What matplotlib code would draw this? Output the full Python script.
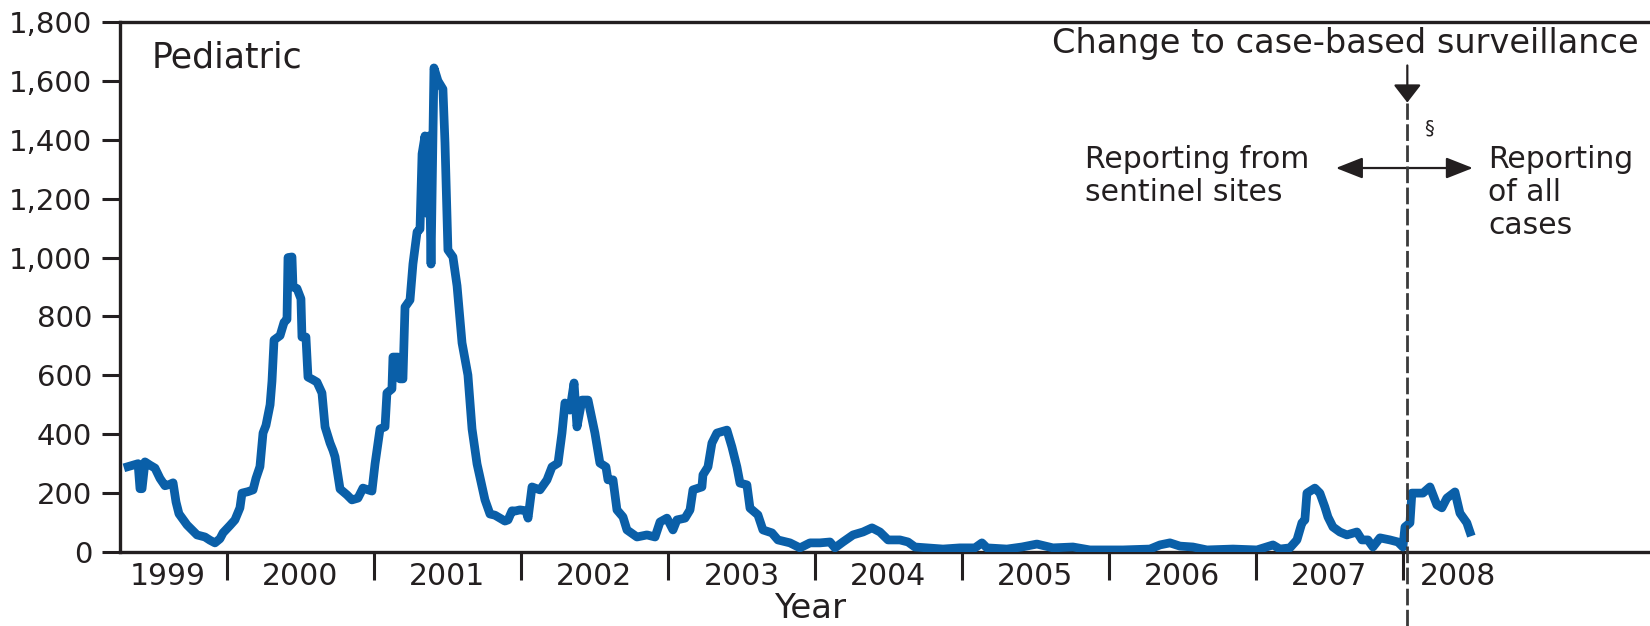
import matplotlib
matplotlib.use("Agg")
import matplotlib.pyplot as plt
import matplotlib.transforms as mtransforms
from matplotlib.ticker import FuncFormatter

plt.rcParams['font.family'] = ['DejaVu Sans']

# Weekly pediatric case counts (decimal year, cases)
years = [
    1999.327, 1999.395, 1999.408, 1999.422, 1999.442, 1999.476, 1999.510, 1999.544,
    1999.578, 1999.612, 1999.633, 1999.653, 1999.673, 1999.728, 1999.796, 1999.850,
    1999.884, 1999.918, 1999.952, 1999.973, 2000.020, 2000.054, 2000.088, 2000.102,
    2000.143, 2000.177, 2000.197, 2000.224, 2000.245, 2000.265, 2000.293, 2000.306,
    2000.320, 2000.361, 2000.388, 2000.408, 2000.415, 2000.442, 2000.449, 2000.476,
    2000.503, 2000.510, 2000.537, 2000.551, 2000.585, 2000.612, 2000.646, 2000.667,
    2000.701, 2000.721, 2000.735, 2000.769, 2000.816, 2000.850, 2000.891, 2000.925,
    2000.966, 2000.986, 2001.007, 2001.041, 2001.075, 2001.088, 2001.122, 2001.129,
    2001.163, 2001.177, 2001.197, 2001.211, 2001.245, 2001.265, 2001.293, 2001.313,
    2001.327, 2001.347, 2001.361, 2001.374, 2001.388, 2001.408, 2001.435, 2001.469,
    2001.483, 2001.503, 2001.537, 2001.565, 2001.599, 2001.639, 2001.667, 2001.701,
    2001.755, 2001.789, 2001.823, 2001.857, 2001.891, 2001.912, 2001.939, 2001.959,
    2001.993, 2002.034, 2002.048, 2002.075, 2002.129, 2002.177, 2002.211, 2002.252,
    2002.279, 2002.299, 2002.333, 2002.361, 2002.381, 2002.415, 2002.456, 2002.503,
    2002.537, 2002.578, 2002.592, 2002.626, 2002.653, 2002.694, 2002.721, 2002.789,
    2002.857, 2002.912, 2002.946, 2002.993, 2003.034, 2003.061, 2003.116, 2003.150,
    2003.170, 2003.231, 2003.238, 2003.272, 2003.299, 2003.333, 2003.401, 2003.435,
    2003.469, 2003.490, 2003.537, 2003.558, 2003.612, 2003.646, 2003.707, 2003.748,
    2003.830, 2003.898, 2003.966, 2004.034, 2004.102, 2004.136, 2004.190, 2004.259,
    2004.327, 2004.388, 2004.442, 2004.497, 2004.578, 2004.633, 2004.680, 2004.762,
    2004.871, 2004.986, 2005.088, 2005.136, 2005.170, 2005.306, 2005.408, 2005.510,
    2005.619, 2005.755, 2005.871, 2005.939, 2006.095, 2006.279, 2006.347, 2006.415,
    2006.483, 2006.571, 2006.667, 2006.844, 2007.007, 2007.116, 2007.163, 2007.231,
    2007.279, 2007.313, 2007.333, 2007.347, 2007.401, 2007.435, 2007.469, 2007.490,
    2007.524, 2007.571, 2007.619, 2007.687, 2007.721, 2007.762, 2007.796, 2007.844,
    2007.912, 2007.966, 2008.000, 2008.014, 2008.048, 2008.061, 2008.136, 2008.184,
    2008.231, 2008.265, 2008.299, 2008.354, 2008.388, 2008.435, 2008.456,
]
cases = [
    290, 300, 215, 215, 306, 295, 285, 250,
    225, 230, 235, 170, 130, 92, 58, 51,
    40, 31, 45, 65, 90, 109, 150, 200,
    205, 211, 250, 290, 404, 430, 500, 580,
    720, 735, 780, 790, 1000, 1002, 900, 895,
    860, 730, 730, 594, 585, 577, 540, 425,
    370, 345, 323, 214, 194, 177, 183, 217,
    210, 207, 299, 418, 425, 540, 554, 662,
    662, 588, 588, 832, 856, 978, 1087, 1097,
    1352, 1413, 1150, 1413, 978, 1644, 1600, 1572,
    1389, 1026, 1002, 904, 710, 601, 418, 299,
    177, 129, 125, 115, 105, 109, 140, 139,
    143, 140, 115, 221, 211, 245, 289, 302,
    404, 506, 482, 574, 425, 516, 516, 404,
    302, 289, 245, 245, 143, 119, 75, 51,
    58, 51, 102, 115, 75, 109, 115, 143,
    211, 221, 262, 289, 370, 404, 414, 357,
    289, 234, 228, 149, 126, 75, 65, 41,
    31, 14, 31, 31, 34, 14, 34, 58,
    68, 82, 68, 41, 41, 34, 17, 14,
    10, 14, 14, 31, 14, 10, 17, 27,
    14, 17, 7, 7, 7, 10, 24, 31,
    20, 17, 7, 10, 7, 24, 10, 14,
    41, 99, 109, 200, 217, 200, 153, 119,
    85, 68, 58, 68, 41, 41, 17, 48,
    41, 34, 17, 85, 99, 200, 200, 221,
    160, 150, 183, 204, 132, 99, 68,
]

year_labels = ['1999', '2000', '2001', '2002', '2003', '2004', '2005', '2006', '2007', '2008']
year_bounds = [2000, 2001, 2002, 2003, 2004, 2005, 2006, 2007, 2008]
y_ticks = [0, 200, 400, 600, 800, 1000, 1200, 1400, 1600, 1800]
switch_year = 2008.03

ink = '#231f20'
blue = '#0a5fa8'

fig = plt.figure(figsize=(16.5, 6.26), dpi=100)
ax = fig.add_axes([120 / 1650, 74 / 626, 1530 / 1650, 530 / 626])

ax.plot(years, cases, color=blue, lw=6.3, solid_joinstyle='round', zorder=3)

x_min, x_max = 1999.272, 2009.681
ax.set_xlim(x_min, x_max)
ax.set_ylim(0, 1800)

for side in ('left', 'bottom', 'top'):
    ax.spines[side].set_linewidth(2.4)
    ax.spines[side].set_color(ink)
ax.spines['right'].set_visible(False)

ax.set_yticks(y_ticks)
ax.yaxis.set_major_formatter(FuncFormatter(lambda v, p: f'{int(v):,}'))
ax.tick_params(axis='y', direction='out', length=13, width=2.2, pad=7,
               labelsize=21, color=ink, labelcolor=ink)

# Year boundaries as long ticks; year names centred between them
ax.set_xticks(year_bounds)
ax.set_xticklabels([])
ax.tick_params(axis='x', which='major', direction='out', length=20, width=2.2, color=ink)
label_centres = [(x_min + year_bounds[0]) / 2 - 0.04] + [b + 0.5 for b in year_bounds[:-1]] + [year_bounds[-1] + 0.374]
ax.set_xticks(label_centres, labels=year_labels, minor=True)
ax.tick_params(axis='x', which='minor', length=0, pad=7, labelsize=21.5, labelcolor=ink)

fig.text(810 / 1650, 0.002, 'Year', ha='center', va='bottom', fontsize=24.5, color=ink)

ax.text(0.0209, 0.915, 'Pediatric', transform=ax.transAxes, fontsize=25,
        va='baseline', ha='left', color=ink)

# Surveillance change marker
blend = mtransforms.blended_transform_factory(ax.transData, ax.transAxes)
ax.plot([switch_year, switch_year], [-0.14, 0.848], transform=blend, clip_on=False,
        color='#3a3a3a', lw=2, linestyle=(0, (6, 1.6)), zorder=4)
ax.annotate('', xy=(switch_year, 0.848), xytext=(switch_year, 0.918),
            xycoords=blend, textcoords=blend,
            arrowprops=dict(arrowstyle='-|>,head_length=1.1,head_width=0.85',
                            mutation_scale=10, color=ink, lw=1.6,
                            shrinkA=0, shrinkB=0))
for tip in (2007.544, 2008.476):
    ax.annotate('', xy=(tip, 0.7245), xytext=(switch_year, 0.7245),
                xycoords=blend, textcoords=blend,
                arrowprops=dict(arrowstyle='-|>,head_length=1.65,head_width=0.65',
                                mutation_scale=10, color=ink, lw=1.6,
                                shrinkA=0, shrinkB=0))

ax.text(0.609, 0.9415, 'Change to case-based surveillance', transform=ax.transAxes,
        fontsize=24.2, ha='left', va='baseline', color=ink)
ax.text(0.8525, 0.800, '§', transform=ax.transAxes, fontsize=14,
        ha='left', va='center', color=ink)
ax.text(0.6307, 0.768, 'Reporting from\nsentinel sites', transform=ax.transAxes,
        fontsize=21.5, ha='left', va='top', linespacing=1.17, color=ink)
ax.text(0.8941, 0.768, 'Reporting\nof all\ncases', transform=ax.transAxes,
        fontsize=21.5, ha='left', va='top', linespacing=1.17, color=ink)

fig.savefig('out.png', dpi=100, facecolor='white')
